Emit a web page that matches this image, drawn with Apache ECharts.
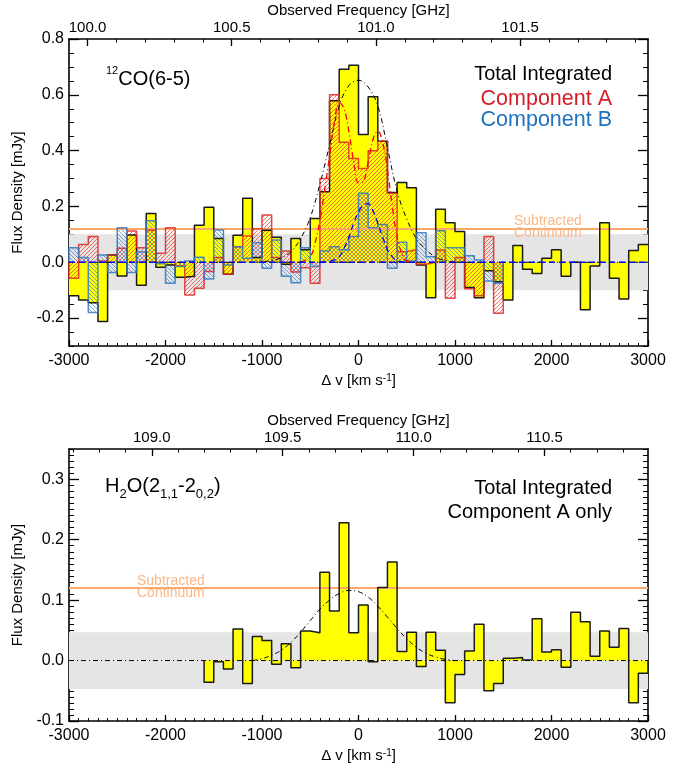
<!DOCTYPE html>
<html><head><meta charset="utf-8">
<script src="https://cdn.jsdelivr.net/npm/echarts@6/dist/echarts.min.js"></script>
<style>html,body{margin:0;padding:0;background:#fff}#c{width:685px;height:764px}</style>
</head><body><div id="c"></div>
<script>
// ---------------- DATA ----------------
const binWidth = 100;               // km/s per channel
// 12CO(6-5) total integrated spectrum, bins starting at -3000 km/s
const coStart = -3000;
const coTotal = [-0.120,-0.135,-0.145,-0.212,0.026,-0.049,0.098,-0.082,0.175,-0.018,
  -0.010,-0.054,-0.050,0.133,0.197,0.085,-0.043,0.097,0.229,0.017,
  0.115,0.090,-0.007,0.085,0.045,0.157,0.253,0.579,0.692,0.706,
  0.458,0.593,0.434,0.250,0.286,0.267,-0.010,-0.127,0.190,0.142,
  0.110,-0.090,-0.127,-0.030,-0.070,-0.135,0.060,-0.025,-0.040,0.014,
  0.045,-0.050,0.000,-0.170,-0.013,0.142,-0.057,-0.132,0.042,0.064];
// Component A and B spectra, bins starting at -3000 km/s (end at 1500 km/s)
const compStart = -3000;
const compA = [-0.057,0.064,0.092,0.005,0.026,0.050,0.112,0.052,0.115,0.032,
  0.124,-0.013,-0.117,-0.093,-0.033,0.017,-0.043,0.056,0.094,0.120,
  0.169,0.017,0.040,-0.035,-0.020,-0.075,0.300,0.600,0.430,0.372,
  0.336,0.400,0.434,0.247,0.038,0.045,-0.007,0.000,0.044,-0.129,
  0.017,-0.095,-0.120,0.092,-0.183];
const compB = [0.052,0.017,-0.180,0.026,-0.037,0.124,-0.037,0.038,0.149,-0.005,
  -0.075,-0.015,0.005,0.018,-0.060,0.116,-0.010,0.056,0.014,0.070,
  -0.021,0.080,-0.050,-0.073,0.052,-0.015,0.040,0.056,0.045,0.092,
  0.247,0.124,0.135,-0.021,0.072,0.005,0.106,0.020,0.113,0.052,
  0.052,0.023,0.008,-0.067,-0.075];
// H2O(211-202) total integrated spectrum, bins starting at -1600 km/s
const h2oStart = -1600;
const h2oTotal = [-0.036,-0.002,-0.014,0.052,-0.038,0.040,0.033,-0.006,0.028,-0.012,
  0.049,0.046,0.146,0.082,0.228,0.046,0.092,-0.002,0.121,0.163,
  0.015,0.047,-0.010,0.047,0.017,-0.070,-0.023,0.016,0.060,-0.050,
  -0.038,0.004,0.005,0.001,0.069,0.014,0.018,-0.011,0.080,0.064,
  0.007,0.049,0.022,0.053,-0.070,-0.021];
// fitted profiles [velocity, flux]
const coFitTotal = [[-1100,0],[-1000,0.002],[-900,0.006],[-800,0.016],[-700,0.038],[-600,0.085],
  [-500,0.16],[-400,0.28],[-300,0.42],[-200,0.56],[-100,0.633],[0,0.652],[100,0.628],
  [200,0.56],[300,0.41],[400,0.255],[500,0.155],[600,0.085],[700,0.045],[800,0.018],
  [900,0.006],[1000,0.001],[1100,0]];
const coFitA = [[-600,0],[-500,0.02],[-450,0.07],[-400,0.15],[-350,0.26],[-300,0.38],[-250,0.5],
  [-200,0.572],[-150,0.55],[-100,0.47],[-50,0.36],[0,0.285],[50,0.29],[100,0.36],[150,0.44],
  [200,0.47],[250,0.43],[300,0.33],[350,0.2],[400,0.09],[450,0.03],[500,0.005],[600,0]];
const coFitB = [[-400,0],[-300,0.003],[-200,0.02],[-150,0.05],[-100,0.09],[-50,0.14],[0,0.18],
  [50,0.205],[100,0.21],[150,0.185],[200,0.14],[250,0.09],[300,0.045],[350,0.02],[400,0.005],[500,0]];
const h2oFit = [[-1100,0],[-1000,0.003],[-900,0.009],[-800,0.017],[-700,0.03],[-600,0.047],
  [-500,0.066],[-400,0.085],[-300,0.1],[-200,0.111],[-100,0.116],[0,0.114],[100,0.105],
  [200,0.09],[300,0.072],[400,0.053],[500,0.036],[600,0.022],[700,0.012],[800,0.006],
  [900,0.002],[1000,0]];
const continuumLevel = 0.12;
const coNoise = 0.1;
const h2oNoise = 0.047;
// axes
const velRange = [-3000, 3000];
const coYRange = [-0.3, 0.8];
const coYTicks = [-0.2, 0.0, 0.2, 0.4, 0.6, 0.8];
const h2oYRange = [-0.1, 0.35];
const h2oYTicks = [-0.1, 0.0, 0.1, 0.2, 0.3];
const coFreqRange = [99.9358, 101.9434];
const coFreqTicks = [100.0, 100.5, 101.0, 101.5];
const h2oFreqRange = [108.684, 110.895];
const h2oFreqTicks = [109.0, 109.5, 110.0, 110.5];

// ---------------- HELPERS ----------------
const FONT = "'Liberation Sans', Arial, Helvetica, sans-serif";
function hist(start, vals, close) {
  const pts = [];
  if (close) pts.push([start, 0]);
  vals.forEach((v, i) => pts.push([start + i * binWidth, v]));
  const end = start + vals.length * binWidth;
  pts.push([end, vals[vals.length - 1]]);
  if (close) pts.push([end, 0]);
  return pts;
}
function steps(a, b, st) { const o = []; const k0 = Math.ceil(a / st - 1e-9); for (let k = k0; k * st <= b + 1e-9; k++) o.push(+(k * st).toFixed(4)); return o; }
function hatch(color, dir) {
  const s = 4, c = document.createElement('canvas'); c.width = s; c.height = s;
  const g = c.getContext('2d'); g.strokeStyle = color; g.lineWidth = 0.9; g.beginPath();
  if (dir > 0) { g.moveTo(0, s); g.lineTo(s, 0); g.moveTo(-s, s); g.lineTo(s, -s); g.moveTo(0, 2*s); g.lineTo(2*s, 0); }
  else { g.moveTo(0, 0); g.lineTo(s, s); g.moveTo(-s, 0); g.lineTo(s, 2*s); g.moveTo(0, -s); g.lineTo(2*s, s); }
  g.stroke(); return c;
}
const redPat = { image: hatch('rgba(238,40,30,0.72)', 1), repeat: 'repeat' };
const bluePat = { image: hatch('rgba(40,115,195,0.68)', -1), repeat: 'repeat' };

const axLine = { show: true, onZero: false, lineStyle: { color: '#000', width: 1.6 } };
const noLine = { show: false, onZero: false };
function panelAxes(g, yRange, yTicks, yMinorStep, fRange, fTicks) {
  const fmt1 = v => (+v).toFixed(1);
  const xs = [
    { type: 'value', gridIndex: g, position: 'bottom', min: velRange[0], max: velRange[1], interval: 1000,
      axisLine: axLine, axisTick: { show: true, inside: true, length: 6, lineStyle: { color: '#000', width: 1.3 } },
      minorTick: { show: true, splitNumber: 10, length: 3, lineStyle: { color: '#000', width: 1 } },
      splitLine: { show: false }, minorSplitLine: { show: false },
      axisLabel: { formatter: v => String(v), color: '#000', fontSize: 16, fontFamily: FONT, margin: 7 },
      name: 'Δ v [km s{sup|-1}]', nameLocation: 'middle', nameGap: 27,
      nameTextStyle: { color: '#000', fontSize: 15, fontFamily: FONT, rich: { sup: { fontSize: 10, verticalAlign: 'top', fontFamily: FONT, color: '#000' } } } },
    { type: 'value', gridIndex: g, position: 'top', min: fRange[0], max: fRange[1],
      axisLine: axLine, axisTick: { show: true, inside: true, length: 7, customValues: fTicks, lineStyle: { color: '#000', width: 1.3 } },
      splitLine: { show: false },
      axisLabel: { customValues: fTicks, formatter: fmt1, color: '#000', fontSize: 15, fontFamily: FONT, margin: 4 },
      name: 'Observed Frequency [GHz]', nameLocation: 'middle', nameGap: 21,
      nameTextStyle: { color: '#000', fontSize: 15, fontFamily: FONT } },
    { type: 'value', gridIndex: g, position: 'top', min: fRange[0], max: fRange[1],
      axisLine: noLine, axisTick: { show: true, inside: true, length: 3.5, customValues: steps(fRange[0], fRange[1], 0.1), lineStyle: { color: '#000', width: 1 } },
      splitLine: { show: false }, axisLabel: { show: false } }
  ];
  const minors = steps(yRange[0], yRange[1], yMinorStep);
  const ys = [];
  ['left', 'right'].forEach(pos => {
    ys.push({ type: 'value', gridIndex: g, position: pos, min: yRange[0], max: yRange[1],
      axisLine: axLine, axisTick: { show: true, inside: true, length: 10, customValues: yTicks, lineStyle: { color: '#000', width: 1.3 } },
      splitLine: { show: false },
      axisLabel: pos === 'left' ? { customValues: yTicks, formatter: fmt1, color: '#000', fontSize: 16, fontFamily: FONT, margin: 5 } : { show: false },
      name: pos === 'left' ? 'Flux Density [mJy]' : '', nameLocation: 'middle', nameGap: 38, nameRotate: 90,
      nameTextStyle: { color: '#000', fontSize: 15, fontFamily: FONT } });
    ys.push({ type: 'value', gridIndex: g, position: pos, min: yRange[0], max: yRange[1],
      axisLine: noLine, axisTick: { show: true, inside: true, length: 5, customValues: minors, lineStyle: { color: '#000', width: 1 } },
      splitLine: { show: false }, axisLabel: { show: false } });
  });
  return { xs, ys };
}
const p0 = panelAxes(0, coYRange, coYTicks, 0.05, coFreqRange, coFreqTicks);
const p1 = panelAxes(1, h2oYRange, h2oYTicks, 0.01, h2oFreqRange, h2oFreqTicks);

function base(xi, yi, z) { return { type: 'line', xAxisIndex: xi, yAxisIndex: yi, symbol: 'none', showSymbol: false, silent: true, z: z, animation: false }; }
function bandSeries(xi, yi, noise) {
  return Object.assign(base(xi, yi, 1), { data: [],
    markArea: { silent: true, itemStyle: { color: '#e5e5e5' }, data: [[{ yAxis: -noise }, { yAxis: noise }]] },
    markLine: { silent: true, symbol: 'none', label: { show: false }, lineStyle: { color: '#fba66a', width: 2, type: 'solid' }, data: [{ yAxis: continuumLevel }] } });
}
function areaS(xi, yi, pts, fill, z) { return Object.assign(base(xi, yi, z), { data: pts, step: 'end', lineStyle: { width: 0, opacity: 0 }, areaStyle: { color: fill, opacity: 1 } }); }
function lineS(xi, yi, pts, color, w, z, type, mode) {
  const s = Object.assign(base(xi, yi, z), { data: pts, lineStyle: { color: color, width: w, type: type || 'solid' } });
  if (mode === 'step') s.step = 'end'; else if (mode === 'smooth') s.smooth = 0.4;
  return s;
}
const DASHDOT = [5, 3, 1, 3];

const coT = hist(coStart, coTotal, false);
const coA = hist(compStart, compA, true);
const coB = hist(compStart, compB, true);
const h2T = hist(h2oStart, h2oTotal, true);
const zeroLine = [[velRange[0], 0], [velRange[1], 0]];

const series = [
  bandSeries(0, 0, coNoise),
  areaS(0, 0, coT, '#ffff00', 2),
  areaS(0, 0, coA, redPat, 3),
  areaS(0, 0, coB, bluePat, 4),
  lineS(0, 0, coT, '#1a1a1a', 1.5, 5, 'solid', 'step'),
  lineS(0, 0, coA, 'rgba(220,40,40,0.85)', 1.5, 6, 'solid', 'step'),
  lineS(0, 0, coB, 'rgba(50,120,190,0.85)', 1.5, 7, 'solid', 'step'),
  lineS(0, 0, zeroLine, '#000', 1, 8, DASHDOT),
  lineS(0, 0, coFitTotal, '#000', 1, 8, DASHDOT, 'smooth'),
  lineS(0, 0, coFitA, '#ff0000', 1.3, 9, [6, 3, 1, 3], 'smooth'),
  lineS(0, 0, coFitB, '#0000ff', 1.3, 10, [6, 4], 'smooth'),
  lineS(0, 0, zeroLine, '#0000ff', 1.3, 10, [6, 4]),
  bandSeries(3, 4, h2oNoise),
  areaS(3, 4, h2T, '#ffff00', 2),
  lineS(3, 4, h2T, '#1a1a1a', 1.5, 5, 'solid', 'step'),
  lineS(3, 4, zeroLine, '#000', 1, 8, DASHDOT),
  lineS(3, 4, h2oFit, '#000', 1, 8, DASHDOT, 'smooth')
];

const txt = (x, y, text, size, color, align, extra) => ({ type: 'text', x: x, y: y, z: 100,
  style: Object.assign({ text: text, fontSize: size, fontFamily: FONT, fill: color, align: align || 'left', verticalAlign: 'middle' }, extra || {}) });

const chart = echarts.init(document.getElementById('c'), null, { renderer: 'canvas' });
chart.setOption({
  animation: false,
  backgroundColor: '#fff',
  textStyle: { fontFamily: FONT },
  grid: [
    { left: 69, top: 39, width: 579, height: 307 },
    { left: 69, top: 449, width: 579, height: 273 }
  ],
  xAxis: p0.xs.concat(p1.xs),
  yAxis: p0.ys.concat(p1.ys),
  series: series,
  graphic: [
    txt(106, 79, '{sup|12}{m|CO(6-5)}', 20, '#000', 'left', { rich: { sup: { fontSize: 11, verticalAlign: 'top', fontFamily: FONT }, m: { fontSize: 20, lineHeight: 28, fontFamily: FONT } } }),
    txt(612, 74, 'Total Integrated', 20, '#000', 'right'),
    txt(612, 99, 'Component A', 21.5, '#d51e28', 'right'),
    txt(612, 120, 'Component B', 21.5, '#1f72bd', 'right'),
    txt(514, 221, 'Subtracted', 14, '#fbb788'),
    txt(514, 233, 'Continuum', 14, '#fbb788'),
    txt(105, 486, '{m|H}{sub|2}{m|O(2}{sub|1,1}{m|-2}{sub|0,2}{m|)}', 20, '#000', 'left', { rich: { sub: { fontSize: 13, verticalAlign: 'bottom', fontFamily: FONT }, m: { fontSize: 20, lineHeight: 30, fontFamily: FONT } } }),
    txt(612, 488, 'Total Integrated', 20, '#000', 'right'),
    txt(612, 512, 'Component A only', 20, '#000', 'right'),
    txt(137, 581, 'Subtracted', 14, '#fbb788'),
    txt(137, 593, 'Continuum', 14, '#fbb788')
  ]
});
</script></body></html>
